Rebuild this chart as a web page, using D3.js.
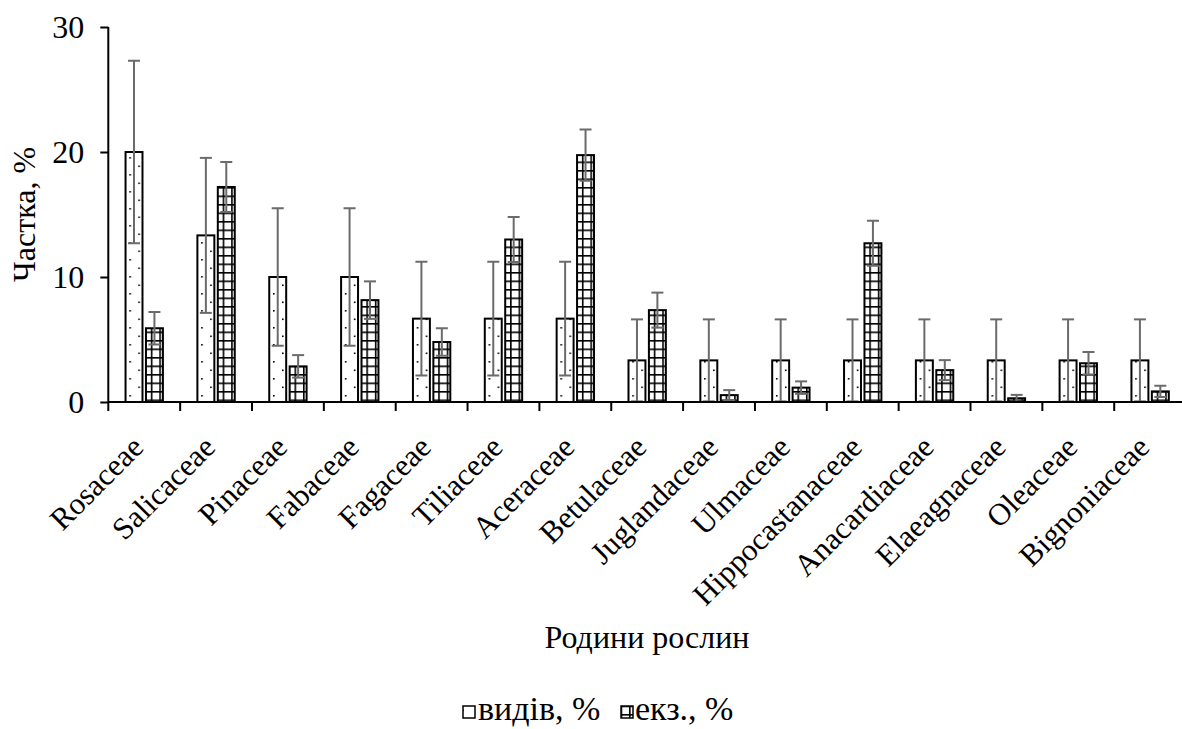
<!DOCTYPE html>
<html>
<head>
<meta charset="utf-8">
<script src="https://cdn.jsdelivr.net/npm/d3@7"></script>
<style>
	html, body { margin: 0; padding: 0; background: #fff; }
	svg { display: block; font-family: "Liberation Serif", "Times New Roman", serif; }
</style>
</head>
<body>
<svg id="chart"></svg>
<script>
const width = 1182;
const height = 729;

const categories = ["Rosaceae", "Salicaceae", "Pinaceae", "Fabaceae", "Fagaceae", "Tiliaceae", "Aceraceae",
	"Betulaceae", "Juglandaceae", "Ulmaceae", "Hippocastanaceae", "Anacardiaceae", "Elaeagnaceae", "Oleaceae", "Bignoniaceae"];
const series = ["видів, %", "екз., %"];
const speciesShare = [20, 13.33, 10, 10, 6.67, 6.67, 6.67, 3.33, 3.33, 3.33, 3.33, 3.33, 3.33, 3.33, 3.33];
const speciesErr = [7.3, 6.2, 5.5, 5.5, 4.55, 4.55, 4.55, 3.28, 3.28, 3.28, 3.28, 3.28, 3.28, 3.28, 3.28];
const specimenShare = [5.9, 17.2, 2.85, 8.15, 4.8, 13.0, 19.75, 7.35, 0.55, 1.15, 12.7, 2.55, 0.3, 3.1, 0.85];
const specimenErr = [1.3, 2.0, 0.9, 1.5, 1.1, 1.8, 2.05, 1.4, 0.4, 0.5, 1.8, 0.8, 0.27, 0.9, 0.45];
const yTicks = [0, 10, 20, 30];

const plotLeft = 108.3;
const plotTop = 27;
const plotBottom = 402;
const bandW = 71.85;

const svg = d3.select("#chart").attr("width", width).attr("height", height);

// fill patterns: sparse dots for species, grid for specimens
const defs = svg.append("defs");
const dots = defs.append("pattern").attr("id", "dots").attr("patternUnits", "userSpaceOnUse")
	.attr("width", 18).attr("height", 17);
dots.append("rect").attr("width", 18).attr("height", 17).attr("fill", "#fff");
dots.append("rect").attr("x", 3).attr("y", 4).attr("width", 1.6).attr("height", 1.6).attr("fill", "#000");
dots.append("rect").attr("x", 12).attr("y", 12.5).attr("width", 1.6).attr("height", 1.6).attr("fill", "#000");

const grid = defs.append("pattern").attr("id", "grid").attr("patternUnits", "userSpaceOnUse")
	.attr("width", 8.5).attr("height", 8.5);
grid.append("rect").attr("width", 8.5).attr("height", 8.5).attr("fill", "#fff");
grid.append("rect").attr("x", 0).attr("y", 0).attr("width", 1.6).attr("height", 8.5).attr("fill", "#000");
grid.append("rect").attr("x", 0).attr("y", 0).attr("width", 8.5).attr("height", 1.6).attr("fill", "#000");

const x0 = d3.scaleBand().domain(categories).range([plotLeft, plotLeft + bandW * categories.length]).padding(0);
const x1 = d3.scaleBand().domain(series)
	.range([x0.bandwidth() * 0.24, x0.bandwidth() * 0.76]).paddingInner(0.17);
const y = d3.scaleLinear().domain([0, 30]).range([plotBottom, plotTop]);

const rows = categories.map((c, i) => ({
	cat: c,
	vals: [
		{ s: series[0], v: speciesShare[i], e: speciesErr[i], fill: "url(#dots)" },
		{ s: series[1], v: specimenShare[i], e: specimenErr[i], fill: "url(#grid)" },
	],
}));

const groups = svg.selectAll(".grp").data(rows).enter().append("g")
	.attr("transform", (d) => `translate(${x0(d.cat)},0)`);

groups.selectAll("rect").data((d) => d.vals).enter().append("rect")
	.attr("x", (d) => x1(d.s))
	.attr("y", (d) => y(d.v))
	.attr("width", x1.bandwidth())
	.attr("height", (d) => y(0) - y(d.v))
	.attr("fill", (d) => d.fill)
	.attr("stroke", "#000")
	.attr("stroke-width", 2);

// error bars
const errs = groups.selectAll(".err").data((d) => d.vals).enter().append("g")
	.attr("class", "err")
	.attr("stroke", "#6b6b6b").attr("stroke-width", 2)
	.attr("transform", (d) => `translate(${x1(d.s) + x1.bandwidth() / 2},0)`);
errs.append("line").attr("y1", (d) => y(d.v + d.e)).attr("y2", (d) => y(Math.max(0, d.v - d.e)));
errs.append("line").attr("x1", -6).attr("x2", 6).attr("y1", (d) => y(d.v + d.e)).attr("y2", (d) => y(d.v + d.e));
errs.append("line").attr("x1", -6).attr("x2", 6)
	.attr("y1", (d) => y(Math.max(0, d.v - d.e))).attr("y2", (d) => y(Math.max(0, d.v - d.e)));

// y axis
const yAxis = svg.append("g").attr("transform", `translate(${plotLeft},0)`)
	.call(d3.axisLeft(y).tickValues(yTicks).tickSize(8).tickPadding(16));
yAxis.select(".domain").attr("stroke", "#000").attr("stroke-width", 2).attr("d", `M0,${plotTop}V${plotBottom}`);
yAxis.selectAll(".tick line").attr("stroke", "#000").attr("stroke-width", 2);
yAxis.selectAll(".tick text").attr("font-size", 32).attr("font-family", "Liberation Serif").attr("fill", "#000");

// x axis: line with ticks at band edges
svg.append("line").attr("x1", plotLeft).attr("x2", width).attr("y1", plotBottom).attr("y2", plotBottom)
	.attr("stroke", "#000").attr("stroke-width", 2);
svg.selectAll(".xtick").data(categories).enter().append("line")
	.attr("x1", (d) => x0(d)).attr("x2", (d) => x0(d))
	.attr("y1", plotBottom).attr("y2", plotBottom + 9)
	.attr("stroke", "#000").attr("stroke-width", 2);

svg.selectAll(".xlabel").data(categories).enter().append("text")
	.attr("transform", (d) => `translate(${x0(d) + x0.bandwidth() / 2 + 1},449) rotate(-45)`)
	.attr("text-anchor", "end")
	.attr("font-size", 31)
	.attr("fill", "#000")
	.text((d) => d);

svg.append("text").attr("x", 647).attr("y", 648).attr("text-anchor", "middle")
	.attr("font-size", 32).attr("fill", "#000").text("Родини рослин");

svg.append("text").attr("transform", `translate(35,${(plotTop + plotBottom) / 2}) rotate(-90)`)
	.attr("text-anchor", "middle").attr("font-size", 32).attr("fill", "#000").text("Частка, %");

// legend
const legendItems = [
	{ label: series[0], fill: "url(#dots)", x: 463, tx: 478 },
	{ label: series[1], fill: "url(#grid)", x: 621, tx: 635 },
];
const lg = svg.selectAll(".legend").data(legendItems).enter().append("g");
lg.append("rect").attr("x", (d) => d.x).attr("y", 706).attr("width", 12).attr("height", 12)
	.attr("fill", (d) => d.fill).attr("stroke", "#000").attr("stroke-width", 1.5);
lg.append("text").attr("x", (d) => d.tx).attr("y", 720).attr("font-size", 34).attr("fill", "#000")
	.text((d) => d.label);
</script>
</body>
</html>
